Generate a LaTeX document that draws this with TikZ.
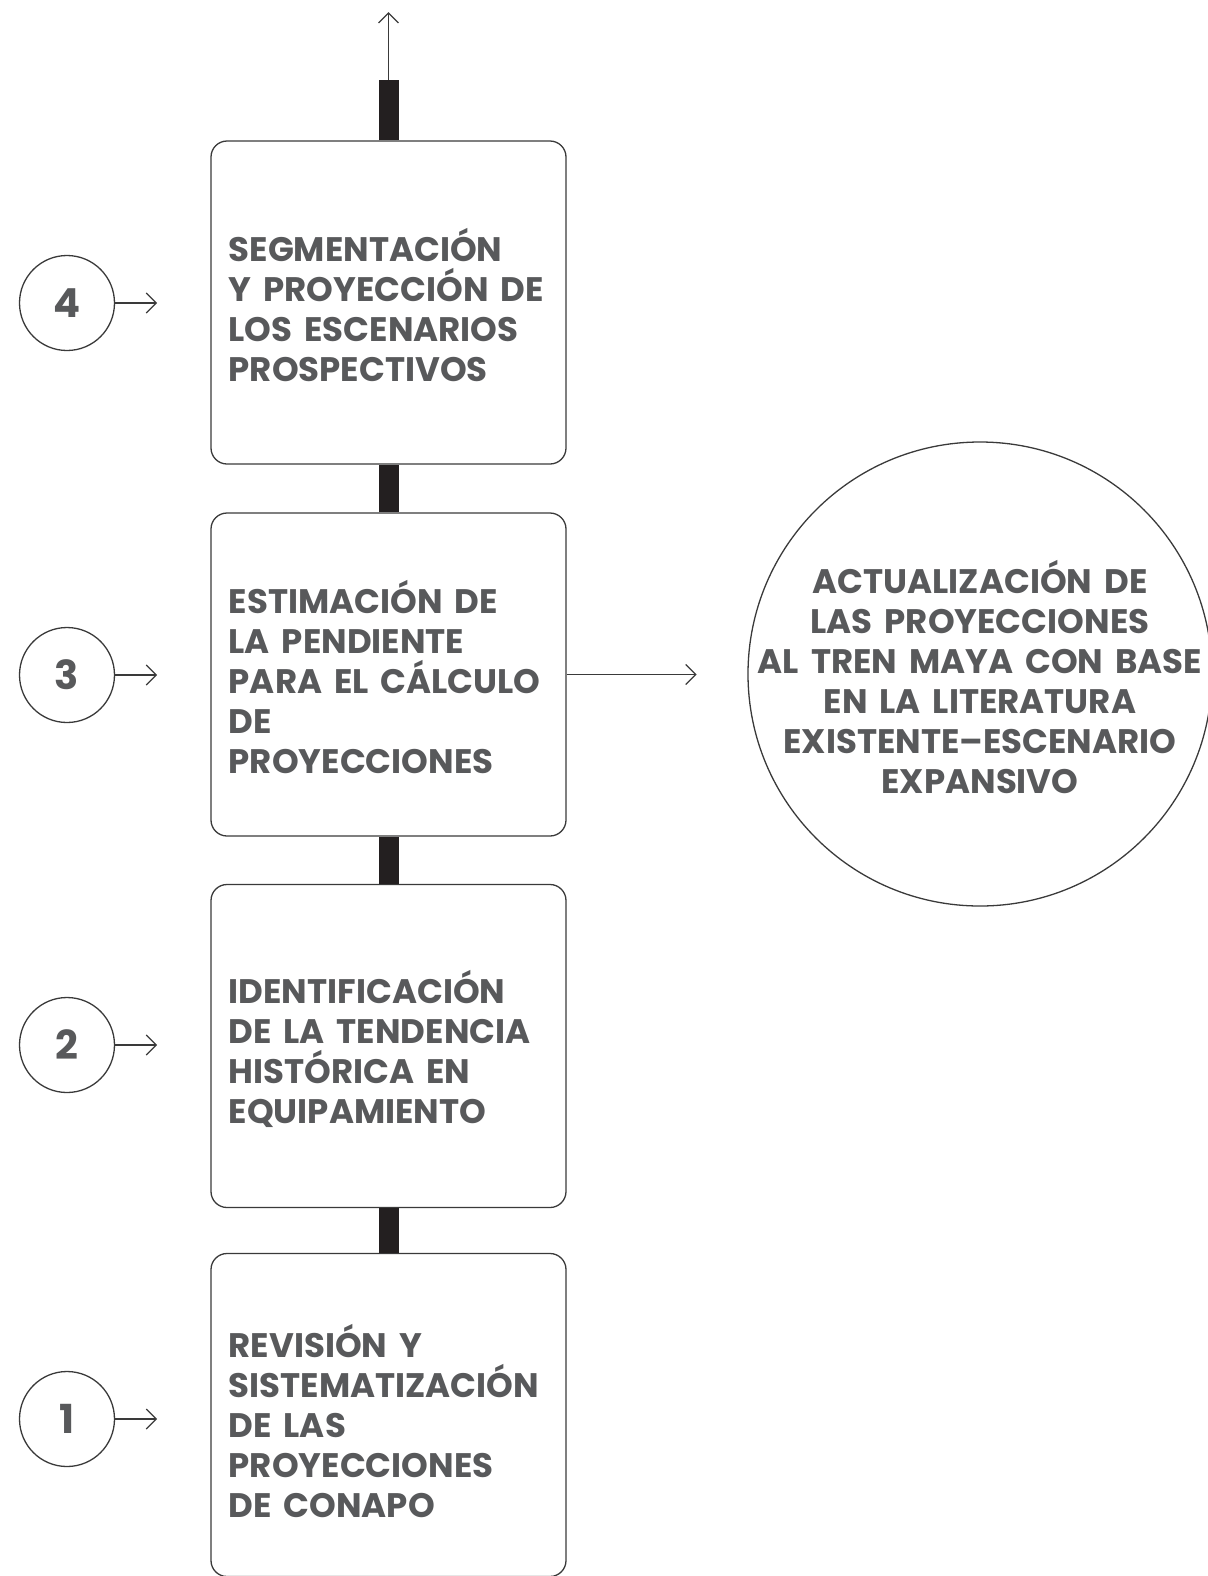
\documentclass[tikz,border=0pt]{standalone}
\usepackage{fontspec}
\setmainfont{Poppins}[WordSpace=1.65]
\usetikzlibrary{arrows.meta,positioning}
\definecolor{txtgray}{HTML}{58595B}
\definecolor{linegray}{HTML}{3A3A3A}
\definecolor{bardark}{HTML}{231F20}
\tikzset{
  stepbox/.style={draw=linegray,line width=0.65pt,rounded corners=8pt,
    minimum width=177.5pt,minimum height=161.5pt,inner sep=0pt},
  numcirc/.style={circle,draw=linegray,line width=0.65pt,minimum size=47.5pt,
    inner sep=0pt,text=txtgray,font=\bfseries\fontsize{20}{24}\selectfont},
  steptext/.style={anchor=west,align=left,inner sep=0pt,text=txtgray,
    font=\bfseries\fontsize{17}{20}\selectfont},
  bigcirc/.style={circle,draw=linegray,line width=0.65pt,minimum size=232pt,
    inner sep=0pt,align=center,text=txtgray,font=\bfseries\fontsize{17}{20}\selectfont},
  link/.style={bardark,line width=10pt},
  thinarrow/.style={-{Straight Barb[length=5pt,width=10pt]},linegray,line width=0.65pt}
}
\begin{document}
\begin{tikzpicture}[x=0.5pt,y=-0.5pt]
\useasboundingbox (0,0) rectangle (1207,1576);
% boxes of the four steps
\node[stepbox] (b4) at (388.5,302.5) {};
\node[stepbox] (b3) at (388.5,674.5) {};
\node[stepbox] (b2) at (388.5,1046) {};
\node[stepbox] (b1) at (388.5,1415) {};
\node[steptext] (t4) at ([shift={(9pt,-1.5pt)}]b4.west) {SEGMENTACIÓN\\Y PROYECCIÓN DE\\LOS ESCENARIOS\\PROSPECTIVOS};
\node[steptext] (t3) at ([shift={(9pt,-1.5pt)}]b3.west) {ESTIMACIÓN DE\\LA PENDIENTE\\PARA EL CÁLCULO\\DE\\PROYECCIONES};
\node[steptext] (t2) at ([shift={(9pt,-1.5pt)}]b2.west) {IDENTIFICACIÓN\\DE LA TENDENCIA\\HISTÓRICA EN\\EQUIPAMIENTO};
\node[steptext] (t1) at ([shift={(9pt,-3pt)}]b1.west) {REVISIÓN Y\\SISTEMATIZACIÓN\\DE LAS\\PROYECCIONES\\DE CONAPO};
% thick links
\coordinate (bartop) at (388.5,80);
\coordinate (tip) at (388.5,12);
\draw[link] (b1.north) -- (b2.south);
\draw[link] (b2.north) -- (b3.south);
\draw[link] (b3.north) -- (b4.south);
\draw[link] (b4.north) -- (bartop);
\draw[thinarrow] (bartop) -- (tip);
% numbers
\node[numcirc] (c4) at (67,303) {4};
\node[numcirc] (c3) at (67,675) {3};
\node[numcirc] (c2) at (67,1045) {2};
\node[numcirc] (c1) at (67,1419) {1};
\coordinate[right=21pt of c4] (e4);
\coordinate[right=21pt of c3] (e3);
\coordinate[right=21pt of c2] (e2);
\coordinate[right=21pt of c1] (e1);
\draw[thinarrow] (c4) -- (e4);
\draw[thinarrow] (c3) -- (e3);
\draw[thinarrow] (c2) -- (e2);
\draw[thinarrow] (c1) -- (e1);
% result
\node[bigcirc] (res) at (980,674) {};
\node[text=txtgray,align=center,font=\bfseries\fontsize{17}{20}\selectfont] (rtext) at ([yshift=-1.5pt]res.center) {ACTUALIZACIÓN DE\\LAS PROYECCIONES\\AL TREN MAYA CON BASE\\EN LA LITERATURA\\EXISTENTE--ESCENARIO\\EXPANSIVO};
\coordinate[right=65pt of b3] (e5);
\draw[thinarrow] (b3) -- (e5);
\end{tikzpicture}
\end{document}
